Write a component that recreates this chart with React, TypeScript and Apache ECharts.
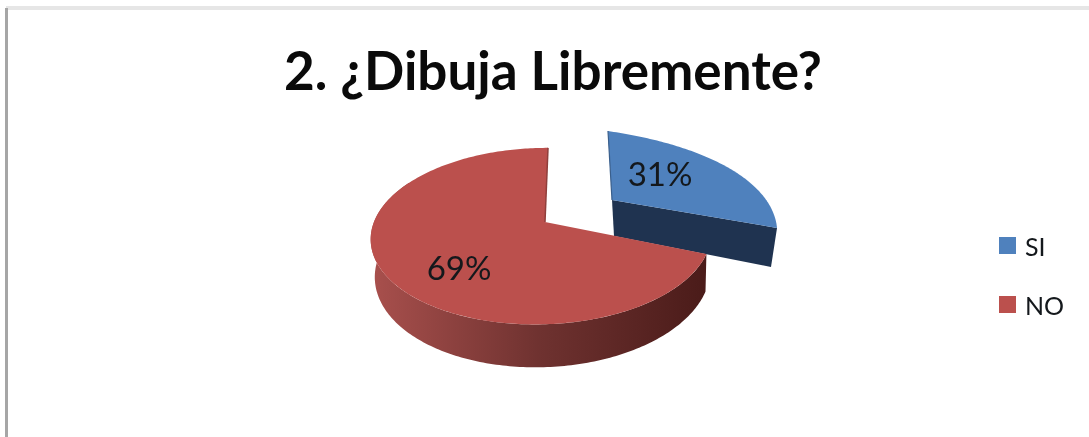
import React, { useEffect, useRef } from "react";
import * as echarts from "echarts";

const titleText = "2. ¿Dibuja Libremente?";
const categories = ["SI", "NO"];
const percentages = [31, 69];
const topColors = ["#4f81bd", "#bb504d"];
const blueCutColor = "#1f3350";
const total = percentages[0] + percentages[1];

type Proj = { ox: number; oy: number; A: number; B: number; C: number; D: number; E: number; F: number };
// Plane projections of the two pie slices (exploded slice has its own perspective)
const blueProj: Proj = { ox: 612, oy: 200, A: 227.4, B: -5.56, C: 0.47, D: 0.389, E: 1.0, F: -95.8 };
const redProj: Proj = { ox: 545, oy: 222, A: 168, B: 3.5, C: 0.02, D: 0.16, E: -1, F: -86 };

const project = (p: Proj, deg: number, r = 1) => {
  const a = (deg * Math.PI) / 180;
  const u = r * Math.sin(a);
  const v = r * Math.cos(a);
  const den = 1 + p.C * u + p.D * v;
  return { x: p.ox + (p.A * u + p.B * v) / den, y: p.oy + (p.E * u + p.F * v) / den, s: 1 / den };
};

const arcPoints = (p: Proj, from: number, to: number) => {
  const pts: number[][] = [];
  const n = Math.max(2, Math.ceil(Math.abs(to - from)));
  for (let i = 0; i <= n; i++) {
    const q = project(p, from + ((to - from) * i) / n);
    pts.push([q.x, q.y]);
  }
  return pts;
};

const renderBlue = (_: any, api: any) => {
  const sweep = (api.value(0) / total) * 360;
  const apex = project(blueProj, 0, 0);
  const end = project(blueProj, sweep);
  const begin = project(blueProj, 0);
  const top = [[apex.x, apex.y], ...arcPoints(blueProj, 0, sweep)];
  const cut = [
    [apex.x, apex.y],
    [end.x, end.y],
    [end.x - 6, end.y + 39],
    [apex.x + 2, apex.y + 36],
  ];
  return {
    type: "group",
    children: [
      { type: "polygon", shape: { points: cut }, style: { fill: blueCutColor } },
      { type: "polygon", shape: { points: top }, style: { fill: topColors[0] } },
      {
        type: "line",
        shape: { x1: begin.x, y1: begin.y, x2: apex.x, y2: apex.y },
        style: { stroke: "#3a5f8c", lineWidth: 1.2 },
      },
      {
        type: "text",
        x: apex.x + 48,
        y: apex.y - 27,
        style: { text: `${api.value(0)}%`, fill: "#14181c", font: "33px Lato", align: "center", verticalAlign: "middle" },
      },
    ],
  };
};

const renderRed = (_: any, api: any) => {
  const sweep = (api.value(0) / total) * 360;
  const start = 360 - sweep;
  const apex = project(redProj, 0, 0);
  const begin = project(redProj, 0);
  const top = [[apex.x, apex.y], ...arcPoints(redProj, start, 360)];
  const upper: number[][] = [];
  const lower: number[][] = [];
  for (let d = start; d <= 300; d += 1) {
    const q = project(redProj, d);
    upper.push([q.x, q.y]);
    lower.push([apex.x + 1.5 + (q.x - apex.x) * 0.985, q.y + 36 * q.s]);
  }
  const wall = [...upper, ...lower.reverse()];
  const wallFill = new echarts.graphic.LinearGradient(
    370, 0, 708, 0,
    [
      { offset: 0, color: "#a9504d" },
      { offset: 0.5, color: "#6f3230" },
      { offset: 1, color: "#4a1b19" },
    ],
    true
  );
  return {
    type: "group",
    children: [
      { type: "polygon", shape: { points: wall }, style: { fill: wallFill } },
      { type: "polygon", shape: { points: top }, style: { fill: topColors[1] } },
      {
        type: "line",
        shape: { x1: begin.x, y1: begin.y, x2: apex.x, y2: apex.y },
        style: { stroke: "#8f3f3c", lineWidth: 1.5 },
      },
      {
        type: "text",
        x: apex.x - 86,
        y: apex.y + 45,
        style: { text: `${api.value(0)}%`, fill: "#14181c", font: "33px Lato", align: "center", verticalAlign: "middle" },
      },
    ],
  };
};

export default function App() {
  const ref = useRef<HTMLDivElement>(null);
  useEffect(() => {
    const chart = echarts.init(ref.current!, null, { renderer: "svg" });
    chart.setOption({
      animation: false,
      backgroundColor: "#ffffff",
      color: topColors,
      title: {
        text: titleText,
        left: 548,
        top: 38,
        textAlign: "center",
        textStyle: { fontFamily: "Lato", fontWeight: "bold", fontSize: 53, color: "#0a0a0a" },
      },
      legend: {
        orient: "vertical",
        left: 999,
        top: 233,
        data: categories,
        icon: "rect",
        itemWidth: 17,
        itemHeight: 17,
        itemGap: 34,
        padding: 0,
        selectedMode: false,
        textStyle: { fontFamily: "Lato", fontSize: 25, color: "#14181c", padding: [0, 0, 0, 4] },
      },
      graphic: [
        { type: "rect", shape: { x: 6, y: 6, width: 1083, height: 4 }, style: { fill: "#e6e6e6" }, silent: true },
        { type: "rect", shape: { x: 5, y: 8, width: 3, height: 429 }, style: { fill: "#a6a6a6" }, silent: true },
      ],
      series: [
        { type: "custom", name: categories[0], coordinateSystem: "none", data: [[percentages[0]]], renderItem: renderBlue, itemStyle: { color: topColors[0] } },
        { type: "custom", name: categories[1], coordinateSystem: "none", data: [[percentages[1]]], renderItem: renderRed, itemStyle: { color: topColors[1] } },
      ],
    });
    return () => chart.dispose();
  }, []);
  return <div ref={ref} style={{ position: "absolute", left: 0, top: 0, width: 1089, height: 437, filter: "blur(0.5px)" }} />;
}
